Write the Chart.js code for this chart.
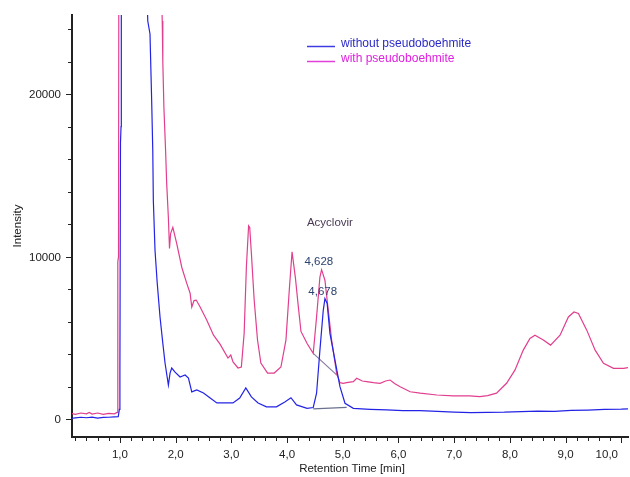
<!DOCTYPE html>
<html>
<head>
<meta charset="utf-8">
<script src="https://cdn.jsdelivr.net/npm/chart.js@4.4.1/dist/chart.umd.min.js"></script>
<style>
  html, body { margin: 0; padding: 0; background: #fff; }
  #wrap { width: 630px; height: 477px; }
</style>
</head>
<body>
<div id="wrap"><canvas id="chromChart" width="630" height="477"></canvas></div>
<script>
// retention time [min] / intensity
const blueTime = [0.14, 0.2, 0.3, 0.4, 0.5, 0.6, 0.7, 0.8, 0.9, 0.97, 0.99, 1.0, 1.01, 1.02, 1.025, 1.25, 1.48, 1.5,
  1.54, 1.57, 1.59, 1.6, 1.63, 1.67, 1.72, 1.77, 1.81, 1.87, 1.9, 1.93, 1.99, 2.08, 2.17, 2.23, 2.29, 2.38, 2.5,
  2.62, 2.74, 2.92, 3.03, 3.15, 3.26, 3.36, 3.48, 3.63, 3.81, 3.96, 4.07, 4.17, 4.36, 4.47, 4.53, 4.59, 4.65,
  4.68, 4.72, 4.77, 4.86, 4.95, 5.04, 5.19, 5.49, 5.79, 6.08, 6.39, 6.7, 7.0, 7.3, 7.6, 7.9, 8.2, 8.5, 8.8, 9.1,
  9.4, 9.7, 10.0, 10.12];
const blueIntensity = [60, 80, 120, 90, 130, 70, 110, 120, 140, 150, 600, 3000, 17000, 18000, 40000, 90000, 27000, 24500,
  23700, 19600, 16500, 13450, 10400, 8360, 6290, 4680, 3460, 2100, 2840, 3150, 2900, 2600, 2720, 2530, 1680, 1800, 1610,
  1300, 1000, 1000, 1000, 1300, 1920, 1370, 1000, 760, 760, 1060, 1320, 880, 670, 720, 1600, 4250, 6700,
  7420, 7120, 5280, 3640, 2000, 980, 670, 610, 570, 530, 530, 480, 440, 400, 420, 430, 470, 500, 480, 540,
  560, 600, 620, 640];

const pinkTime = [0.14, 0.2, 0.3, 0.4, 0.45, 0.5, 0.6, 0.7, 0.8, 0.9, 0.95, 0.96, 0.965, 0.975, 0.985, 1.4, 1.74, 1.76,
  1.77, 1.79, 1.82, 1.84, 1.87, 1.89, 1.91, 1.95, 2.02, 2.11, 2.2, 2.26, 2.29, 2.33, 2.37, 2.44, 2.56, 2.68, 2.8,
  2.94, 2.99, 3.03, 3.12, 3.18, 3.23, 3.27, 3.31, 3.33, 3.36, 3.41, 3.47, 3.53, 3.65, 3.77, 3.89, 3.98, 4.04,
  4.09, 4.15, 4.2, 4.25, 4.36, 4.47, 4.53, 4.59, 4.62, 4.68, 4.74, 4.8, 4.89, 4.95, 5.01, 5.07, 5.19, 5.25,
  5.35, 5.43, 5.55, 5.67, 5.77, 5.85, 5.93, 6.03, 6.21, 6.39, 6.69, 6.98, 7.28, 7.46, 7.6, 7.76, 7.94, 8.09,
  8.24, 8.36, 8.45, 8.6, 8.73, 8.9, 9.05, 9.15, 9.23, 9.38, 9.53, 9.68, 9.86, 10.04, 10.12];
const pinkIntensity = [350, 300, 380, 330, 420, 320, 380, 300, 360, 330, 420, 2000, 9700, 10000, 40000, 100000, 27000, 24500,
  22000, 19150, 16520, 14480, 12400, 10500, 11420, 11800, 10800, 9350, 8360, 7750, 6900, 7300, 7330, 6900, 6090, 5170, 4600,
  3760, 3950, 3520, 3150, 3210, 5290, 9350, 11900, 11800, 10200, 7330, 4870, 3460, 2840, 2840, 3210, 4870, 7930,
  10300, 8700, 7000, 5400, 4660, 4050, 6290, 8750, 9200, 8550, 6700, 4870, 2820, 2250, 2210, 2250, 2310, 2520,
  2350, 2310, 2250, 2210, 2350, 2410, 2200, 2000, 1690, 1600, 1490, 1430, 1430, 1390, 1450, 1600, 2210, 3020,
  4250, 4970, 5170, 4870, 4560, 5170, 6290, 6600, 6500, 5480, 4250, 3440, 3130, 3130, 3180];

// integration baselines under the Acyclovir peaks
const blueBaseTime = [4.47, 5.07];
const blueBaseIntensity = [630, 730];
const pinkBaseTime = [4.47, 4.9];
const pinkBaseIntensity = [4050, 2700];

const seriesNames = ['without pseudoboehmite', 'with pseudoboehmite'];

// axis ticks
const xMajorTicks = [1, 2, 3, 4, 5, 6, 7, 8, 9, 10];
const xTickLabels = ['1,0', '2,0', '3,0', '4,0', '5,0', '6,0', '7,0', '8,0', '9,0', '10,0'];
const yMajorTicks = [0, 10000, 20000];
const yTickLabels = ['0', '10000', '20000'];

// peak labels: text, time, intensity
const peakLabels = [
  ['Acyclovir', 4.77, 12070],
  ['4,628', 4.57, 9670],
  ['4,678', 4.64, 7830]
];

const toPoints = (xs, ys) => xs.map((t, i) => ({ x: t, y: ys[i] }));

const AXIS_FONT = '11.5px "Liberation Sans", Arial, sans-serif';

const overlay = {
  id: 'overlay',
  afterDraw(chart) {
    const ctx = chart.ctx;
    const area = chart.chartArea;
    const xs = chart.scales.x;
    const ys = chart.scales.y;
    ctx.save();
    ctx.strokeStyle = '#222';
    ctx.lineWidth = 1;

    // y tick marks every 2000, labels on the 10000s
    for (let v = 0; v <= ys.max; v += 2000) {
      const py = Math.round(ys.getPixelForValue(v)) + 0.5;
      const len = v % 10000 === 0 ? 5 : 3;
      ctx.beginPath();
      ctx.moveTo(area.left - 1 - len, py);
      ctx.lineTo(area.left - 1, py);
      ctx.stroke();
    }
    ctx.fillStyle = '#222';
    ctx.font = AXIS_FONT;
    ctx.textAlign = 'right';
    ctx.textBaseline = 'middle';
    yMajorTicks.forEach((v, i) => {
      ctx.fillText(yTickLabels[i], 61, ys.getPixelForValue(v) + 1);
    });

    // x tick marks every 0.2 min
    for (let k = 1; k * 0.2 <= xs.max; k++) {
      const t = k * 0.2;
      if (t < xs.min) continue;
      const px = Math.round(xs.getPixelForValue(t)) + 0.5;
      const len = k % 5 === 0 ? 5 : 3;
      ctx.beginPath();
      ctx.moveTo(px, area.bottom + 1);
      ctx.lineTo(px, area.bottom + 1 + len);
      ctx.stroke();
    }
    ctx.textBaseline = 'middle';
    xMajorTicks.forEach((t, i) => {
      const px = xs.getPixelForValue(t);
      const w = ctx.measureText(xTickLabels[i]).width;
      if (px + w / 2 > 618) {
        ctx.textAlign = 'right';
        ctx.fillText(xTickLabels[i], 618, 455);
      } else {
        ctx.textAlign = 'center';
        ctx.fillText(xTickLabels[i], px, 455);
      }
    });

    // axis titles
    ctx.textAlign = 'center';
    ctx.fillText('Retention Time [min]', 352, 469);
    ctx.save();
    ctx.translate(18, (area.top + area.bottom) / 2);
    ctx.rotate(-Math.PI / 2);
    ctx.fillText('Intensity', 0, 0);
    ctx.restore();

    // legend
    const legendLine = ['#3c3ce0', '#e040d8'];
    const legendText = ['#2a2ac8', '#e020e0'];
    ctx.font = '12px "Liberation Sans", Arial, sans-serif';
    ctx.textAlign = 'left';
    seriesNames.forEach((name, i) => {
      const ly = 46 + i * 15;
      ctx.strokeStyle = legendLine[i];
      ctx.lineWidth = 1.5;
      ctx.beginPath();
      ctx.moveTo(307, ly + 0.5);
      ctx.lineTo(335, ly + 0.5);
      ctx.stroke();
      ctx.fillStyle = legendText[i];
      ctx.fillText(name, 341, ly - 2);
    });

    // peak labels
    ctx.font = AXIS_FONT;
    ctx.textAlign = 'center';
    peakLabels.forEach(([text, t, v], i) => {
      ctx.fillStyle = i === 0 ? '#4a3a55' : '#2c4270';
      ctx.fillText(text, xs.getPixelForValue(t), ys.getPixelForValue(v));
    });
    ctx.restore();
  }
};

const ctx = document.getElementById('chromChart').getContext('2d');
const chromChart = new Chart(ctx, {
  type: 'line',
  data: {
    datasets: [
      {
        label: seriesNames[0],
        data: toPoints(blueTime, blueIntensity),
        borderColor: 'rgb(35, 35, 230)',
        borderWidth: 1.2,
        pointRadius: 0,
        tension: 0,
        clip: 0
      },
      {
        label: seriesNames[1],
        data: toPoints(pinkTime, pinkIntensity),
        borderColor: 'rgb(226, 62, 142)',
        borderWidth: 1.2,
        pointRadius: 0,
        tension: 0,
        clip: 0
      },
      {
        label: 'baseline 1',
        data: toPoints(blueBaseTime, blueBaseIntensity),
        borderColor: '#6a7090',
        borderWidth: 1.2,
        pointRadius: 0,
        clip: 0
      },
      {
        label: 'baseline 2',
        data: toPoints(pinkBaseTime, pinkBaseIntensity),
        borderColor: '#8a7aa0',
        borderWidth: 1.2,
        pointRadius: 0,
        clip: 0
      }
    ]
  },
  options: {
    responsive: false,
    animation: false,
    parsing: false,
    layout: { padding: { top: 15, right: 2, left: 0, bottom: 0 } },
    plugins: {
      legend: { display: false },
      tooltip: { enabled: false }
    },
    scales: {
      x: {
        type: 'linear',
        min: 0.14,
        max: 10.12,
        ticks: { display: false },
        grid: { display: false },
        border: { display: true, color: '#222', width: 2 },
        afterFit: scale => { scale.height = 40; scale.paddingLeft = 0; scale.paddingRight = 0; }
      },
      y: {
        type: 'linear',
        min: -1095,
        max: 24870,
        ticks: { display: false },
        grid: { display: false },
        border: { display: true, color: '#222', width: 2 },
        afterFit: scale => { scale.width = 72; scale.paddingTop = 0; scale.paddingBottom = 0; }
      }
    }
  },
  plugins: [overlay]
});
</script>
</body>
</html>
